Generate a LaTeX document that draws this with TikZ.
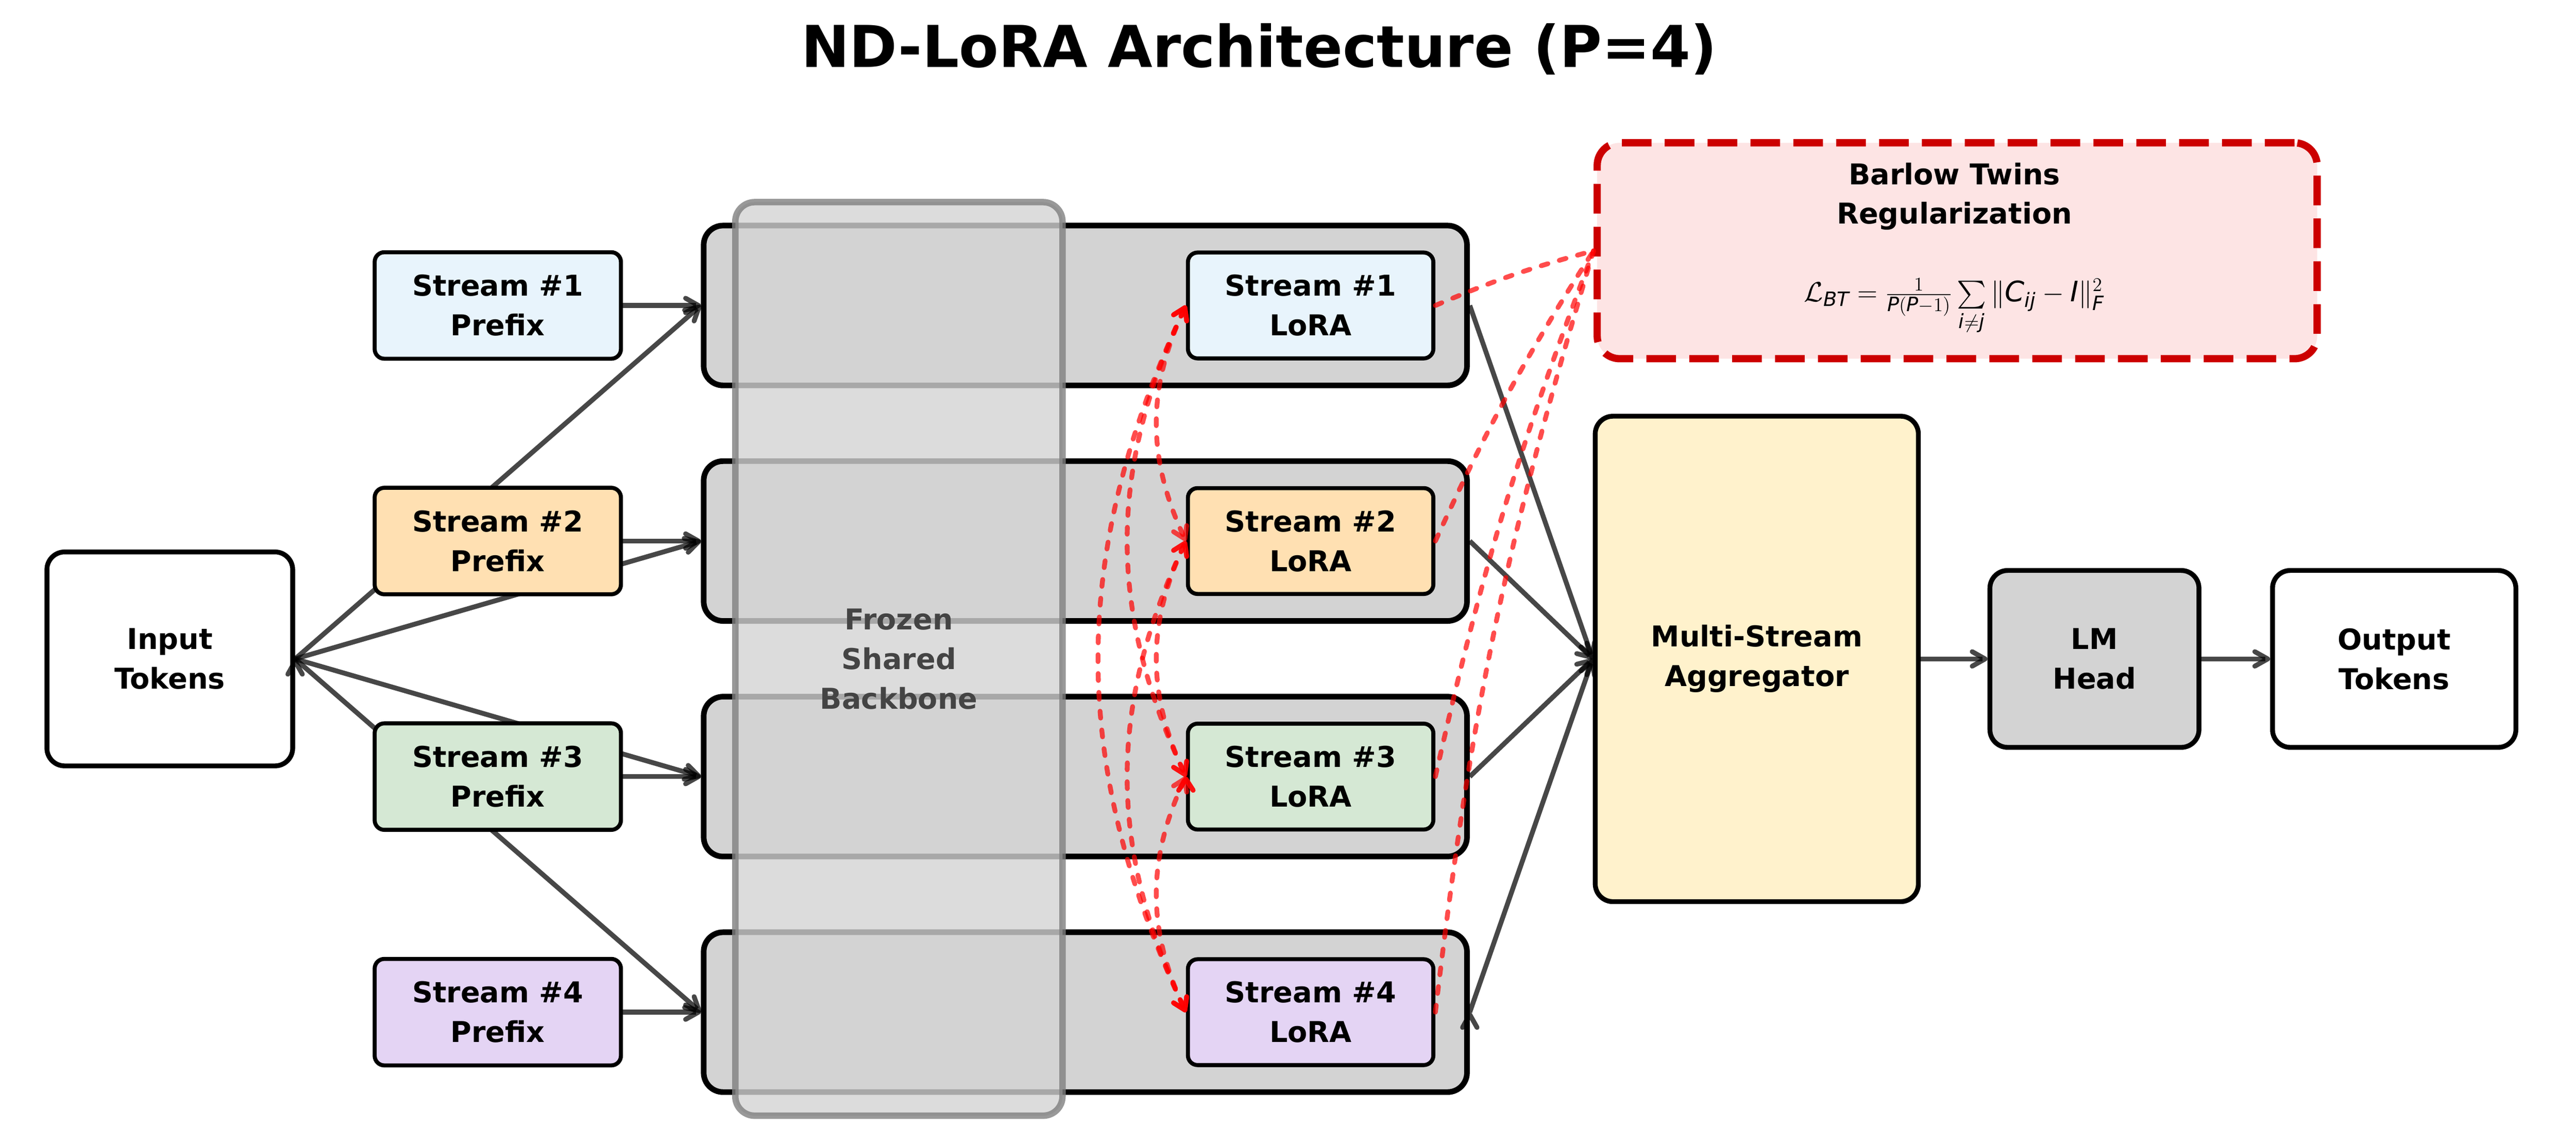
\documentclass[tikz,border=0pt]{standalone}
\usepackage{fontspec}
\setmainfont{DejaVu Sans}
\usepackage{amsmath}
\usepackage{tikz}
\usetikzlibrary{positioning,arrows.meta,backgrounds}

\definecolor{sone}{HTML}{E8F4FC}
\definecolor{stwo}{HTML}{FFE0B2}
\definecolor{sthree}{HTML}{D5E8D4}
\definecolor{sfour}{HTML}{E4D4F4}
\definecolor{aggfill}{HTML}{FFF2CC}
\definecolor{boxgray}{HTML}{D3D3D3}
\definecolor{edgegray}{HTML}{808080}
\definecolor{textgray}{HTML}{444444}
\definecolor{btred}{HTML}{CC0000}
\definecolor{btfill}{HTML}{FDE4E4}

\newcommand{\blockfont}{\fontsize{17.8}{24.6}\selectfont\bfseries}
\newcommand{\titlefont}{\fontsize{35.8}{43}\selectfont\bfseries}
\newcommand{\eqfont}{\fontsize{17.5}{21}\selectfont}

\tikzset{
  block/.style={draw=black,line width=3pt,rounded corners=11pt,align=center,font=\blockfont},
  pbox/.style={block,fill=#1,line width=2.5pt,rounded corners=6pt,minimum width=152.8pt,minimum height=66.1pt},
  lbox/.style={block,fill=#1,line width=2.5pt,rounded corners=6pt,minimum width=152.3pt,minimum height=65.7pt},
  lane/.style={draw=black,fill=boxgray,line width=3.5pt,rounded corners=12pt,minimum width=473.6pt,minimum height=99.2pt},
  backbone/.style={draw=edgegray,fill=boxgray,draw opacity=0.8,fill opacity=0.8,text opacity=1,line width=4pt,rounded corners=12pt,minimum width=203pt,minimum height=567pt,align=center,font=\blockfont,text=textgray},
  btbox/.style={draw=btred,fill=btfill,line width=4.5pt,dash pattern=on 18.4pt off 8.2pt,rounded corners=14pt,minimum width=446.7pt,minimum height=134pt},
  flow/.style={->,draw=black,draw opacity=0.72,line width=3pt},
  btlink/.style={draw=red,draw opacity=0.7,line width=3pt,line cap=round,dash pattern=on 4.3pt off 7.4pt},
  corr/.style={<->,btlink,>={Straight Barb[length=7pt,width=9pt,round]}}
}

\begin{document}
\begin{tikzpicture}[x=24pt,y=24pt,node distance=146.2pt,on grid,>={Straight Barb[length=8pt,width=9pt,round]}]
   \useasboundingbox (0,0) rectangle (66.6,29.6);
   \node[font=\titlefont,anchor=base] (title) at (32.55,27.86) {ND-LoRA Architecture (P=4)};
   \node[block,minimum width=152.5pt,minimum height=132.8pt] (in_t) at (4.39,12.56) {Input\\Tokens};
   \node[pbox=sone] (p_1) at (12.87,21.70) {Stream \#1\\Prefix};
   \node[pbox=stwo] (p_2) [below=of p_1] {Stream \#2\\Prefix};
   \node[pbox=sthree] (p_3) [below=of p_2] {Stream \#3\\Prefix};
   \node[pbox=sfour] (p_4) [below=of p_3] {Stream \#4\\Prefix};
   \node[lane] (r_1) at (28.06,21.70) {};
   \node[lane] (r_2) [below=of r_1] {};
   \node[lane] (r_3) [below=of r_2] {};
   \node[lane] (r_4) [below=of r_3] {};
   \node[lbox=sone] (l_1) [right=139.8pt of r_1] {Stream \#1\\LoRA};
   \node[lbox=stwo] (l_2) [right=139.8pt of r_2] {Stream \#2\\LoRA};
   \node[lbox=sthree] (l_3) [right=139.8pt of r_3] {Stream \#3\\LoRA};
   \node[lbox=sfour] (l_4) [right=139.8pt of r_4] {Stream \#4\\LoRA};
   \node[backbone] (bb) at (23.24,12.56) {Frozen\\Shared\\Backbone};
   \node[block,fill=aggfill,minimum width=200.5pt,minimum height=301.3pt] (agg) at (45.42,12.56) {Multi-Stream\\Aggregator};
   \node[block,fill=boxgray,minimum width=129.7pt,minimum height=109.8pt] (lm) [right=209.5pt of agg] {LM\\Head};
   \node[block,minimum width=151pt,minimum height=109.8pt] (out) [right=186pt of lm] {Output\\Tokens};
   \node[btbox] (bt) at (50.6,23.115) {};
   \node[font=\blockfont,align=center] (bt_title) at (50.53,24.52) {Barlow Twins\\Regularization};
   \node[font=\eqfont,anchor=base] (bt_eq) at (50.53,21.80) {$\mathcal{L}_{\mathit{BT}}=\tfrac{1}{\mathit{P}(\mathit{P}-1)}\sum\limits_{\mathit{i}\neq\mathit{j}}\|\mathit{C}_{\mathit{ij}}-\mathit{I}\|_{\mathit{F}}^{2}$};
   \begin{scope}[on background layer]
    \path[flow]
    (in_t.east) edge (r_1.west)
                edge (r_2.west)
                edge (r_3.west)
                edge (r_4.west)
    (p_1) edge (r_1)
    (p_2) edge (r_2)
    (p_3) edge (r_3)
    (p_4) edge (r_4);
   \end{scope}
    \path[flow]
    (r_1.east) edge (agg.west)
    (r_2.east) edge (agg.west)
    (r_3.east) edge (agg.west)
    (r_4.east) edge (agg.west)
    (agg) edge (lm)
    (lm) edge (out);
    \path[btlink]
    (l_1.east) edge [bend left=4] (bt.west)
    (l_2.east) edge [bend left=4] (bt.west)
    (l_3.east) edge [bend left=4] (bt.west)
    (l_4.east) edge [bend left=5] (bt.west);
    \path[corr]
    (l_1.west) edge [bend right=25] (l_2.west)
               edge [bend right=25] (l_3.west)
               edge [bend right=25] (l_4.west)
    (l_2.west) edge [bend right=25] (l_3.west)
               edge [bend right=25] (l_4.west)
    (l_3.west) edge [bend right=25] (l_4.west);
\end{tikzpicture}
\end{document}
